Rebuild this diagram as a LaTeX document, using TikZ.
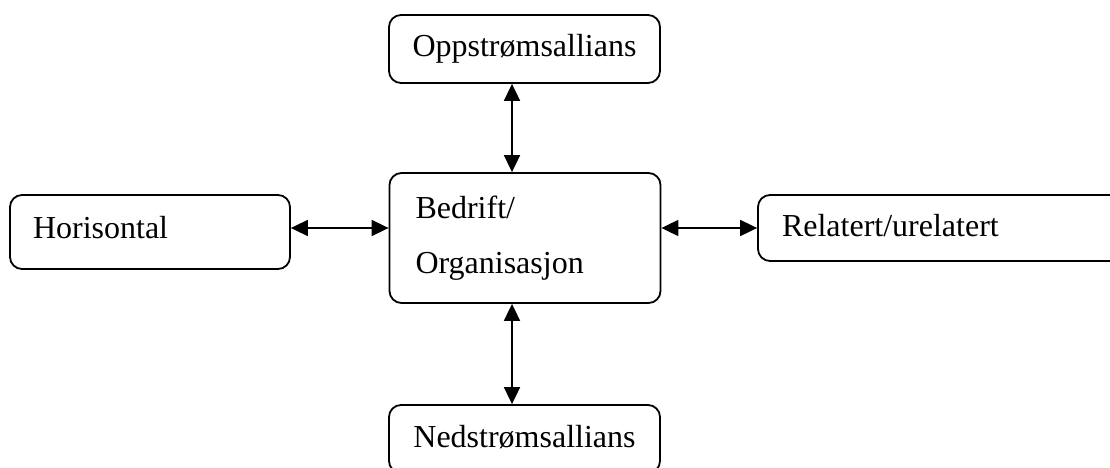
\documentclass[tikz,border=0pt]{standalone}
\usepackage{fontspec}
\setmainfont{Liberation Serif}
\usepackage{tikz}
\usetikzlibrary{arrows.meta,calc}

\begin{document}
\begin{tikzpicture}[x=1pt,y=-1pt,
  box/.style={draw,line width=1.8pt,rounded corners=12pt,inner sep=0pt,
    font=\fontsize{32}{55}\selectfont},
  oneline/.style={text height=22pt,text depth=6pt},
  link/.style={line width=1.8pt,{Triangle[length=17pt,width=16pt]}-{Triangle[length=17pt,width=16pt]}}]
  \useasboundingbox (0,0) rectangle (1110,468);
  \clip (0,0) rectangle (1110,468);
  \node[box,minimum width=271pt,minimum height=130pt,align=left,text width=219pt] (firm) at (525,238) {Bedrift/\\Organisasjon};
  \node[box,oneline,minimum width=271pt,minimum height=68pt] (up) at (524.5,49) {Oppstrømsallians};
  \node[box,oneline,minimum width=271pt,minimum height=68pt] (down) at (524.5,439) {Nedstrømsallians};
  \node[box,oneline,text depth=10pt,minimum width=280pt,minimum height=74pt,text width=234pt,align=left] (hor) at (150,232) {Horisontal};
  \node[box,oneline,minimum width=380pt,minimum height=66pt,text width=332pt,align=left] (rel) at (948,228) {Relatert/urelatert};
  \draw[link] ([xshift=-12.5pt]up.south) -- ([xshift=-13pt]firm.north);
  \draw[link] ([xshift=-13pt]firm.south) -- ([xshift=-12.5pt]down.north);
  \draw[link] ([yshift=4pt]hor.east) -- ([yshift=4pt]firm.west |- hor.east);
  \draw[link] (firm.east |- rel.west) -- (rel.west);
\end{tikzpicture}
\end{document}
